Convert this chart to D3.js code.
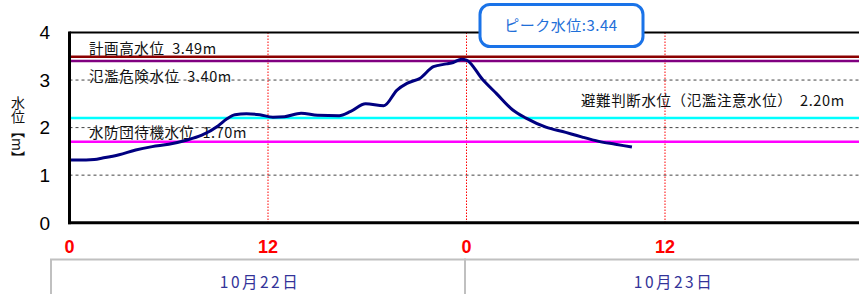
<!DOCTYPE html>
<html><head><meta charset="utf-8">
<script src="https://cdn.jsdelivr.net/npm/d3@7"></script>
<style>
html,body{margin:0;padding:0;background:#fff;overflow:hidden;}
svg{display:block;}
</style></head>
<body>
<svg id="c" width="859" height="294"></svg>
<script>
// ---- data ----
const hours  = [0, 1, 1.5, 2, 3, 4, 5, 6, 7, 8, 9, 9.5, 10, 10.7, 11.5, 12.3, 13, 14, 15, 16.3, 17, 17.9, 19, 19.8, 20.4, 21.2, 22, 22.8, 23.2, 23.7, 24, 25, 25.8, 26.8, 27.6, 28.8, 30, 30.5, 31, 32, 33, 34];
const levels = [1.32, 1.32, 1.33, 1.36, 1.43, 1.53, 1.60, 1.65, 1.73, 1.84, 2.04, 2.18, 2.27, 2.29, 2.27, 2.22, 2.23, 2.30, 2.26, 2.25, 2.34, 2.50, 2.46, 2.79, 2.93, 3.04, 3.28, 3.34, 3.37, 3.44, 3.42, 3.00, 2.72, 2.37, 2.20, 2.01, 1.90, 1.85, 1.80, 1.71, 1.65, 1.59];
const yTicks = [0, 1, 2, 3, 4];
const xTicks = [0, 12, 24, 36];
const xTickLabels = ["0", "12", "0", "12"];
const dayLabels = ["10月22日", "10月23日"];
const refValues = [3.49, 3.40, 2.20, 1.70];
const refLabels = ["計画高水位\u00a0\u00a03.49m", "氾濫危険水位\u00a0\u00a03.40m", "避難判断水位（氾濫注意水位）\u00a0\u00a02.20m", "水防団待機水位\u00a0\u00a01.70m"];
const refColors = ["#8b0000", "#800080", "#00ffff", "#ff00ff"];
const peakLabel = "ピーク水位:3.44";

// ---- scales ----
const svg = d3.select("#c");
const x = d3.scaleLinear().domain([0, 48]).range([69.5, 863.5]);
const y = d3.scaleLinear().domain([0, 4]).range([222.7, 32.5]);
const jp = "'Noto Sans CJK JP','Noto Sans',sans-serif";

// gridlines (dashed)
svg.append("g").selectAll("line").data([1, 2, 3]).join("line")
  .attr("x1", x(0)).attr("x2", 859)
  .attr("y1", d => y(d)).attr("y2", d => y(d))
  .attr("stroke", "#444").attr("stroke-width", 1).attr("stroke-dasharray", "3,3");

// vertical red dotted lines
svg.append("g").selectAll("line").data(xTicks.slice(1)).join("line")
  .attr("x1", d => x(d)).attr("x2", d => x(d))
  .attr("y1", y(4)).attr("y2", y(0))
  .attr("stroke", "#ff0000").attr("stroke-width", 1).attr("stroke-dasharray", "1.5,1.5");

// top border
svg.append("line").attr("x1", x(0)).attr("x2", 859).attr("y1", y(4)).attr("y2", y(4))
  .attr("stroke", "#000").attr("stroke-width", 2);

// reference lines
svg.append("g").selectAll("line").data(refValues).join("line")
  .attr("x1", x(0)).attr("x2", 859)
  .attr("y1", d => y(d)).attr("y2", d => y(d))
  .attr("stroke", (d, i) => refColors[i]).attr("stroke-width", 2.5);

// reference labels
const refPos = [[89, 53.5], [89, 81.5], [581, 105.5], [89, 137.5]];
svg.append("g").selectAll("text").data(refLabels).join("text")
  .attr("x", (d, i) => refPos[i][0]).attr("y", (d, i) => refPos[i][1])
  .attr("font-family", jp).attr("font-size", 14.5).attr("fill", "#111")
  .attr("letter-spacing", 0.6)
  .text(d => d);

// water level line
svg.append("path").datum(hours.map((h, i) => [h, levels[i]]))
  .attr("d", d3.line().x(d => x(d[0])).y(d => y(d[1])).curve(d3.curveMonotoneX))
  .attr("fill", "none").attr("stroke", "#000080").attr("stroke-width", 3).attr("stroke-linejoin", "round");

// axes lines
svg.append("line").attr("x1", x(0)).attr("x2", x(0)).attr("y1", y(4) - 1).attr("y2", y(0) + 1.5)
  .attr("stroke", "#000").attr("stroke-width", 3);
svg.append("line").attr("x1", x(0) - 1.5).attr("x2", 859).attr("y1", y(0)).attr("y2", y(0))
  .attr("stroke", "#000").attr("stroke-width", 3);

// y tick labels
svg.append("g").selectAll("text").data(yTicks).join("text")
  .attr("x", 50).attr("y", d => y(d)).attr("dy", "0.36em")
  .attr("text-anchor", "end")
  .attr("font-family", "'Liberation Sans',Arial,sans-serif").attr("font-size", 19)
  .text(d => d);

// x tick labels
svg.append("g").selectAll("text").data(xTicks).join("text")
  .attr("x", d => x(d)).attr("y", 253)
  .attr("text-anchor", "middle").attr("fill", "#ff0000").attr("font-weight", "bold")
  .attr("font-family", "'Liberation Sans',Arial,sans-serif").attr("font-size", 18)
  .text((d, i) => xTickLabels[i]);

// y axis title
svg.append("text").attr("x", 18).attr("y", 96)
  .attr("font-family", jp).attr("font-size", 14)
  .style("writing-mode", "vertical-rl").attr("fill", "#111")
  .text("水位【m】");

// date boxes
const dayX = [51, 465, 879];
svg.append("g").selectAll("rect").data(dayLabels).join("rect")
  .attr("x", (d, i) => dayX[i]).attr("y", 259.5)
  .attr("width", (d, i) => dayX[i + 1] - dayX[i]).attr("height", 40)
  .attr("fill", "#fff").attr("stroke", "#c0c0c0").attr("stroke-width", 2);
svg.append("g").selectAll("text").data(dayLabels).join("text")
  .attr("x", (d, i) => (dayX[i] + dayX[i + 1]) / 2 + 2).attr("y", 288)
  .attr("text-anchor", "middle").attr("fill", "#333399")
  .attr("font-family", jp).attr("font-size", 15.5).attr("letter-spacing", 2.5)
  .text(d => d);

// peak box
svg.append("rect").attr("x", 480).attr("y", 4.5).attr("width", 163).attr("height", 42)
  .attr("rx", 10).attr("ry", 10)
  .attr("fill", "#fff").attr("stroke", "#1a73e8").attr("stroke-width", 3);
svg.append("text").attr("x", 561).attr("y", 31).attr("text-anchor", "middle")
  .attr("fill", "#1f6fd8").attr("font-family", jp).attr("font-size", 15)
  .attr("letter-spacing", 0.5)
  .text(peakLabel);
</script>
</body></html>
